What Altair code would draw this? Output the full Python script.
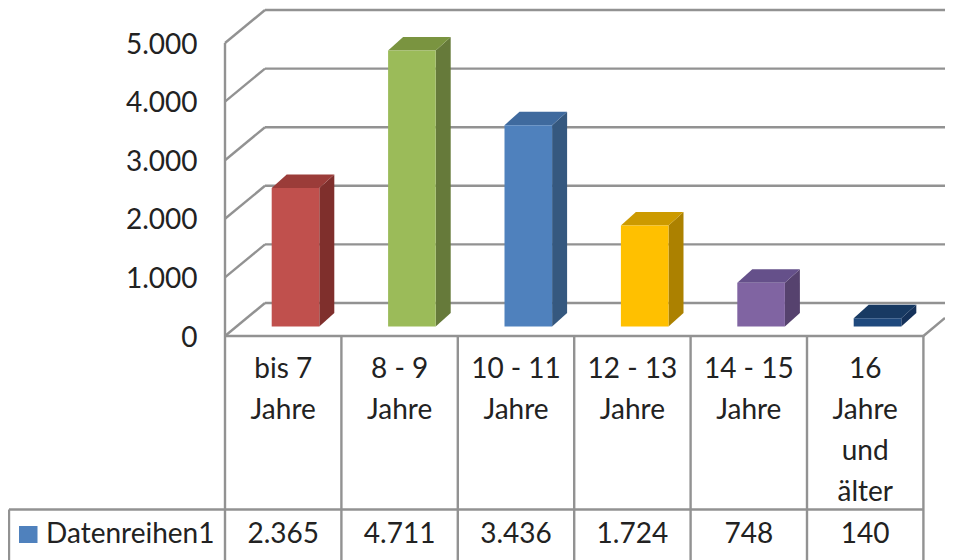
import altair as alt
import pandas as pd

categories = ["bis 7 Jahre", "8 - 9 Jahre", "10 - 11 Jahre", "12 - 13 Jahre", "14 - 15 Jahre", "16 Jahre und älter"]
label_lines = [["bis 7", "Jahre"], ["8 - 9", "Jahre"], ["10 - 11", "Jahre"], ["12 - 13", "Jahre"], ["14 - 15", "Jahre"], ["16", "Jahre", "und", "älter"]]
values = [2365, 4711, 3436, 1724, 748, 140]
series_name = "Datenreihen1"
y_ticks = [0, 1000, 2000, 3000, 4000, 5000]
front_colors = ["#c0504d", "#9bbb59", "#4f81bd", "#ffc000", "#8064a2", "#1f497d"]
side_colors = ["#7f2f2c", "#667a3a", "#35587f", "#ac8100", "#56426e", "#15325a"]
top_colors = ["#9b3c39", "#7a9440", "#3f6a9e", "#cc9a00", "#65508a", "#183a63"]

FONT = "Lato"
FS = 28
GRID = "#929292"
PX_X = 116.4          # pixels per category
PX_Y = 58.6 / 1000    # pixels per unit
W, H = 720, 328

def ux(px):           # horizontal distance in pixels -> category units
    return px / PX_X

def uy(px):           # vertical distance in pixels -> value units
    return px / PX_Y

X = alt.Scale(domain=[0, W / PX_X], nice=False, zero=False)
Y = alt.Scale(domain=[0, H / PX_Y], nice=False, zero=False)

# walls and floor
wall_dx, wall_dy = ux(40), uy(33)
n = len(categories)
grid = []
for t in y_ticks:
    grid.append(dict(x=0, x2=wall_dx, y=t, y2=t + wall_dy))
    grid.append(dict(x=wall_dx, x2=W / PX_X, y=t + wall_dy, y2=t + wall_dy))
grid.append(dict(x=n, x2=W / PX_X, y=0, y2=uy(18)))
grid.append(dict(x=0, x2=n, y=0, y2=0))
grid.append(dict(x=0, x2=0, y=5000, y2=uy(-224)))
for i in range(1, n + 1):
    grid.append(dict(x=i, x2=i, y=0, y2=uy(-224)))
table_top = uy(-173.5)
grid.append(dict(x=ux(-216), x2=n, y=table_top, y2=table_top))
grid.append(dict(x=ux(-216), x2=ux(-216), y=table_top, y2=uy(-224)))
grid_df = pd.DataFrame(grid)

common = dict(
    x=alt.X("x:Q", scale=X, axis=None),
    x2="x2:Q",
    y=alt.Y("y:Q", scale=Y, title=None,
            axis=alt.Axis(values=y_ticks, domain=False, ticks=False, grid=False,
                          labelExpr="replace(format(datum.value, ','), ',', '.')",
                          labelFont=FONT, labelFontSize=FS, labelColor="#222222",
                          labelPadding=28, labelOffset=2)),
    y2="y2:Q",
)
grid_layer = alt.Chart(grid_df).mark_rule(color=GRID, strokeWidth=2.4).encode(**common)

# bars
base = uy(9.5)
bar_left = ux(46.7)
bar_w = ux(47.6)
dx, dy = ux(15), uy(13.5)
front, side, top = [], [], []
for i, v in enumerate(values):
    l = i + bar_left
    r = l + bar_w
    front.append(dict(x=l, x2=r, y=base, y2=base + v, c=front_colors[i]))
    side.append(dict(b=i, x=r, lo=base, hi=base + v, c=side_colors[i]))
    side.append(dict(b=i, x=r + dx, lo=base + dy, hi=base + v + dy, c=side_colors[i]))
    top.append(dict(b=i, y=base + v, l=l, r=r, c=top_colors[i]))
    top.append(dict(b=i, y=base + v + dy, l=l + dx, r=r + dx, c=top_colors[i]))

front_layer = alt.Chart(pd.DataFrame(front)).mark_rect().encode(
    x=alt.X("x:Q", scale=X, axis=None), x2="x2:Q",
    y=alt.Y("y:Q", scale=Y, title=None), y2="y2:Q",
    color=alt.Color("c:N", scale=None))
side_layer = alt.Chart(pd.DataFrame(side)).mark_area(orient="vertical").encode(
    x=alt.X("x:Q", scale=X, axis=None),
    y=alt.Y("lo:Q", scale=Y, title=None), y2="hi:Q",
    detail="b:N", color=alt.Color("c:N", scale=None))
top_layer = alt.Chart(pd.DataFrame(top)).mark_area(orient="horizontal").encode(
    y=alt.Y("y:Q", scale=Y, title=None),
    x=alt.X("l:Q", scale=X, axis=None), x2="r:Q",
    detail="b:N", color=alt.Color("c:N", scale=None))

# category labels and data table
texts = []
for i, lines in enumerate(label_lines):
    for j, s in enumerate(lines):
        texts.append(dict(x=i + 0.5, y=uy(-34 - 41 * j), t=s))
    texts.append(dict(x=i + 0.5, y=uy(-199), t=f"{values[i]:,}".replace(",", ".")))
text_layer = alt.Chart(pd.DataFrame(texts)).mark_text(
    font=FONT, fontSize=FS, color="#222222", align="center", baseline="middle"
).encode(x=alt.X("x:Q", scale=X, axis=None), y=alt.Y("y:Q", scale=Y, title=None), text="t:N")

name_layer = alt.Chart(pd.DataFrame([dict(x=ux(-179), y=uy(-199), t=series_name)])).mark_text(
    font=FONT, fontSize=FS, color="#222222", align="left", baseline="middle"
).encode(x=alt.X("x:Q", scale=X, axis=None), y=alt.Y("y:Q", scale=Y, title=None), text="t:N")

swatch_layer = alt.Chart(pd.DataFrame([dict(x=ux(-206), x2=ux(-187.5), y=uy(-190), y2=uy(-207))])).mark_rect(
    color=front_colors[2]
).encode(x=alt.X("x:Q", scale=X, axis=None), x2="x2:Q",
         y=alt.Y("y:Q", scale=Y, title=None), y2="y2:Q")

chart = alt.layer(grid_layer, side_layer, top_layer, front_layer, text_layer, name_layer, swatch_layer).properties(
    width=W, height=H,
    padding={"left": 217, "top": 0, "right": 0, "bottom": 224},
    autosize=alt.AutoSizeParams(type="none"),
).configure_view(stroke=None)

chart.save("out.html", embed_options={"renderer": "svg", "actions": False})
